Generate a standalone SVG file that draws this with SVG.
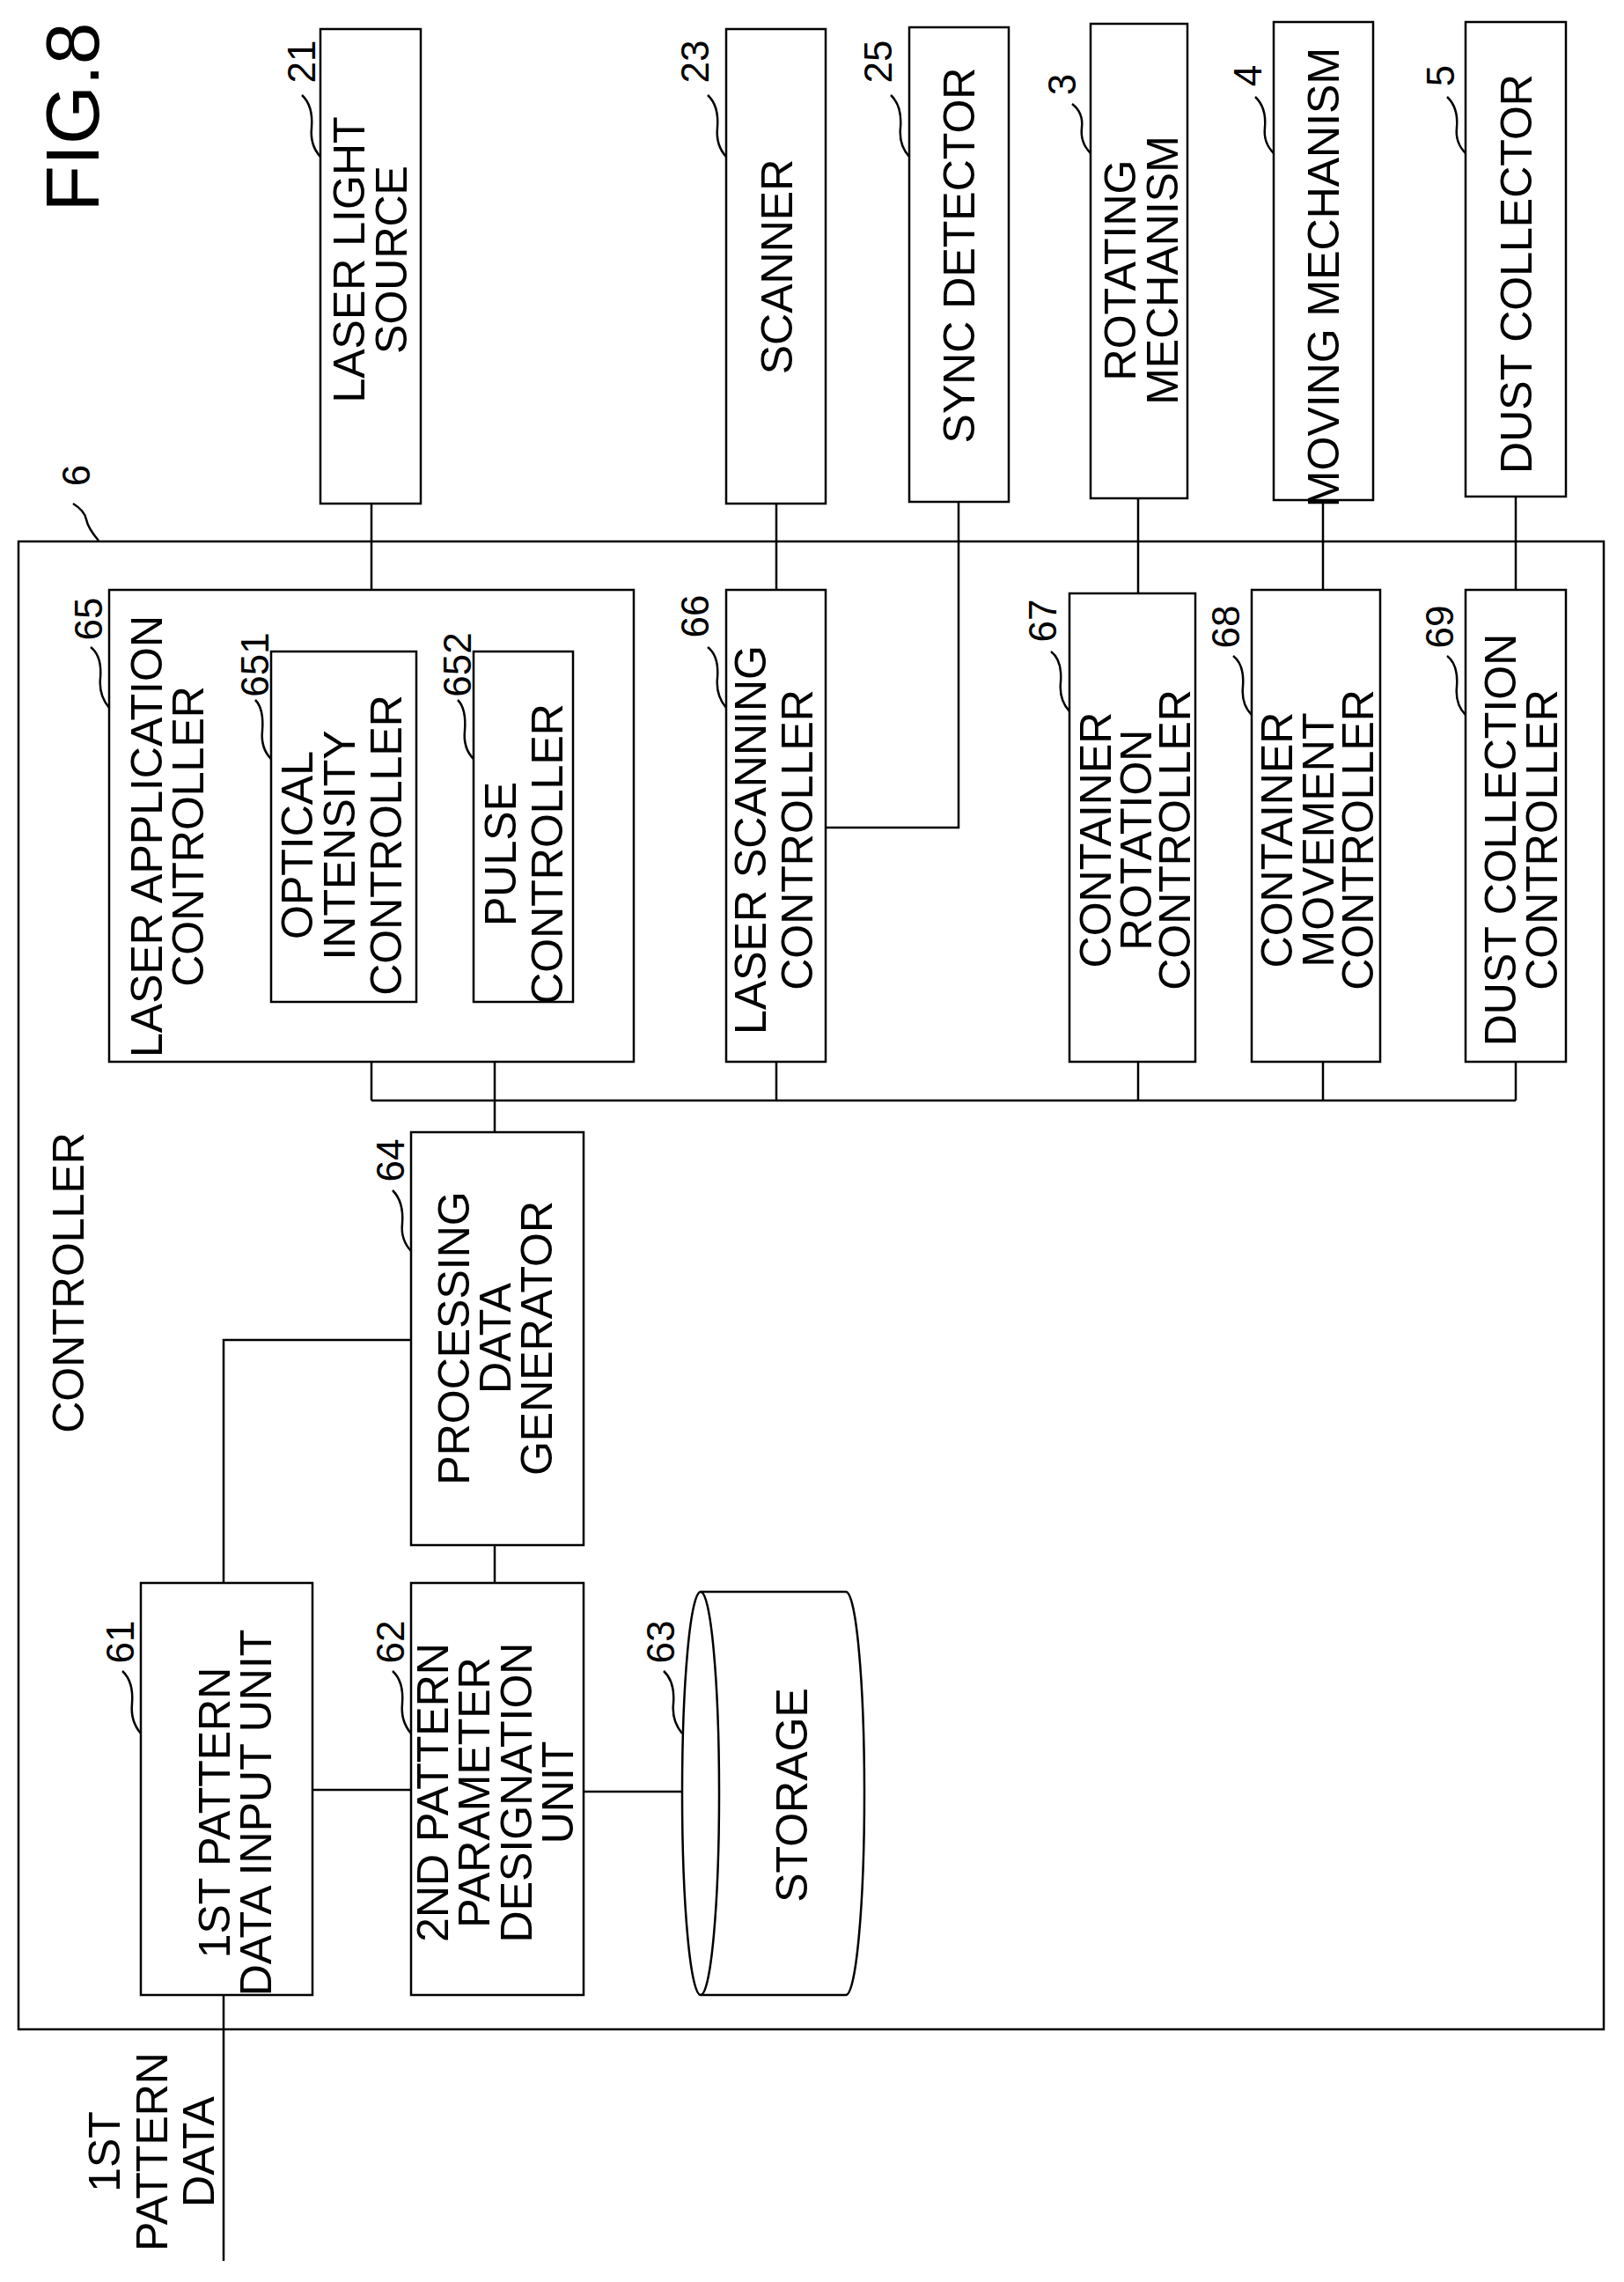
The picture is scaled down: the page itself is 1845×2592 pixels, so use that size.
<svg xmlns="http://www.w3.org/2000/svg" width="1845" height="2592" viewBox="0 0 1845 2592">
<style>
rect,path,ellipse{fill:none;stroke:#000;stroke-width:2.5}
line,polyline{fill:none;stroke:#000;stroke-width:2.5}
text{font-family:"Liberation Sans",Arial,sans-serif;font-size:50px;fill:#000;text-anchor:middle}
.n{font-size:44px}
</style>
<rect width="1845" height="2592" style="fill:#fff;stroke:none"/>
<text x="0" y="0" style="font-size:86px" transform="translate(112,133) rotate(-90)">FIG.8</text>
<g id="controller"><rect x="21" y="615" width="1801" height="1690"/>
<text transform="translate(95,1457) rotate(-90)">CONTROLLER</text>
<path d="M112,614 Q100,600 98,590 Q96,580 83,572"/><text class="n" transform="translate(102,540) rotate(-90)">6</text></g>
<g id="n21"><rect x="364" y="33" width="114" height="539"/>
<text transform="translate(414,295) rotate(-90)">LASER LIGHT</text><text transform="translate(462,295) rotate(-90)">SOURCE</text>
<path d="M364,178 Q352,165 354,145 Q356,120 343,108"/><text class="n" transform="translate(358,70) rotate(-90)">21</text></g>
<g id="n23"><rect x="825" y="33" width="113" height="539"/>
<text transform="translate(900,303) rotate(-90)">SCANNER</text>
<path d="M825,178 Q813,165 815,145 Q817,120 804,108"/><text class="n" transform="translate(805,70) rotate(-90)">23</text></g>
<g id="n25"><rect x="1033" y="31" width="113" height="539"/>
<text transform="translate(1107,290) rotate(-90)">SYNC DETECTOR</text>
<path d="M1033,178 Q1021,165 1023,145 Q1025,120 1012,108"/><text class="n" transform="translate(1013,70) rotate(-90)">25</text></g>
<g id="n3"><rect x="1239" y="27" width="110" height="539"/>
<text transform="translate(1290,307) rotate(-90)">ROTATING</text><text transform="translate(1338,307) rotate(-90)">MECHANISM</text>
<path d="M1239,174 Q1227,162 1229,145 Q1231,128 1218,118"/><text class="n" transform="translate(1222,96) rotate(-90)">3</text></g>
<g id="n4"><rect x="1447" y="25" width="113" height="543"/>
<text transform="translate(1521,315) rotate(-90)">MOVING MECHANISM</text>
<path d="M1447,174 Q1435,162 1437,145 Q1439,122 1426,110"/><text class="n" transform="translate(1433,86) rotate(-90)">4</text></g>
<g id="n5"><rect x="1665" y="25" width="114" height="539"/>
<text transform="translate(1740,311) rotate(-90)">DUST COLLECTOR</text>
<path d="M1665,174 Q1653,162 1655,145 Q1657,122 1644,110"/><text class="n" transform="translate(1652,86) rotate(-90)">5</text></g>
<g id="n65"><rect x="124" y="670" width="596" height="536"/>
<text transform="translate(184,950) rotate(-90)">LASER APPLICATION</text><text transform="translate(231,950) rotate(-90)">CONTROLLER</text>
<path d="M124,804 Q112,790 114,770 Q116,745 103,735"/><text class="n" transform="translate(116,703) rotate(-90)">65</text></g>
<g id="n651"><rect x="308" y="740" width="165" height="398"/>
<text transform="translate(355,960) rotate(-90)">OPTICAL</text><text transform="translate(403,960) rotate(-90)">INTENSITY</text><text transform="translate(456,960) rotate(-90)">CONTROLLER</text>
<path d="M308,862 Q296,850 298,830 Q300,805 290,795"/><text class="n" transform="translate(305,755) rotate(-90)">651</text></g>
<g id="n652"><rect x="538" y="740" width="113" height="398"/>
<text transform="translate(586,970) rotate(-90)">PULSE</text><text transform="translate(639,970) rotate(-90)">CONTROLLER</text>
<path d="M538,862 Q526,850 528,830 Q530,805 520,795"/><text class="n" transform="translate(535,755) rotate(-90)">652</text></g>
<g id="n66"><rect x="825" y="670" width="113" height="536"/>
<text transform="translate(870,954) rotate(-90)">LASER SCANNING</text><text transform="translate(923,954) rotate(-90)">CONTROLLER</text>
<path d="M825,804 Q813,790 815,770 Q817,745 804,735"/><text class="n" transform="translate(805,700) rotate(-90)">66</text></g>
<g id="n67"><rect x="1215" y="674" width="143" height="532"/>
<text transform="translate(1262,954) rotate(-90)">CONTAINER</text><text transform="translate(1308,954) rotate(-90)">ROTATION</text><text transform="translate(1352,954) rotate(-90)">CONTROLLER</text>
<path d="M1215,808 Q1203,795 1205,775 Q1207,750 1194,740"/><text class="n" transform="translate(1200,705) rotate(-90)">67</text></g>
<g id="n68"><rect x="1422" y="670" width="146" height="536"/>
<text transform="translate(1468,954) rotate(-90)">CONTAINER</text><text transform="translate(1515,954) rotate(-90)">MOVEMENT</text><text transform="translate(1560,954) rotate(-90)">CONTROLLER</text>
<path d="M1422,812 Q1410,800 1412,780 Q1414,755 1401,745"/><text class="n" transform="translate(1408,712) rotate(-90)">68</text></g>
<g id="n69"><rect x="1665" y="670" width="114" height="536"/>
<text transform="translate(1722,954) rotate(-90)">DUST COLLECTION</text><text transform="translate(1769,954) rotate(-90)">CONTROLLER</text>
<path d="M1665,812 Q1653,800 1655,780 Q1657,755 1644,745"/><text class="n" transform="translate(1651,712) rotate(-90)">69</text></g>
<g id="n64"><rect x="467" y="1286" width="196" height="469"/>
<text transform="translate(533,1520) rotate(-90)">PROCESSING</text><text transform="translate(580,1520) rotate(-90)">DATA</text><text transform="translate(627,1520) rotate(-90)">GENERATOR</text>
<path d="M467,1421 Q455,1408 457,1390 Q459,1365 446,1352"/><text class="n" transform="translate(459,1318) rotate(-90)">64</text></g>
<g id="n61"><rect x="160" y="1798" width="195" height="468"/>
<text transform="translate(261,2059) rotate(-90)">1ST PATTERN</text><text transform="translate(308,2059) rotate(-90)">DATA INPUT UNIT</text>
<path d="M160,1969 Q148,1955 150,1935 Q152,1910 139,1898"/><text class="n" transform="translate(152,1865) rotate(-90)">61</text></g>
<g id="n62"><rect x="467" y="1798" width="196" height="468"/>
<text transform="translate(509,2036) rotate(-90)">2ND PATTERN</text><text transform="translate(556,2036) rotate(-90)">PARAMETER</text><text transform="translate(604,2036) rotate(-90)">DESIGNATION</text><text transform="translate(651,2036) rotate(-90)">UNIT</text>
<path d="M467,1969 Q455,1955 457,1935 Q459,1910 446,1898"/><text class="n" transform="translate(459,1865) rotate(-90)">62</text></g>
<g id="n63"><ellipse cx="796" cy="2037" rx="21" ry="229"/>
<path d="M796,1808 L961,1808 A21,229 0 0 1 961,2266 L796,2266"/>
<text transform="translate(917,2039) rotate(-90)">STORAGE</text>
<path d="M775,1969 Q763,1955 765,1935 Q767,1910 754,1898"/><text class="n" transform="translate(766,1865) rotate(-90)">63</text></g>
<g id="input-label"><text transform="translate(136,2444) rotate(-90)">1ST</text><text transform="translate(190,2444) rotate(-90)">PATTERN</text><text transform="translate(243,2444) rotate(-90)">DATA</text></g>
<g id="connectors">
<line x1="422" y1="572" x2="422" y2="670"/>
<line x1="882" y1="572" x2="882" y2="670"/>
<polyline points="1089,570 1089,940 938,940"/>
<line x1="1293" y1="566" x2="1293" y2="674"/>
<line x1="1503" y1="568" x2="1503" y2="670"/>
<line x1="1722" y1="564" x2="1722" y2="670"/>
<line x1="422" y1="1250" x2="1722" y2="1250"/>
<line x1="422" y1="1206" x2="422" y2="1250"/>
<line x1="562" y1="1206" x2="562" y2="1286"/>
<line x1="882" y1="1206" x2="882" y2="1250"/>
<line x1="1293" y1="1206" x2="1293" y2="1250"/>
<line x1="1503" y1="1206" x2="1503" y2="1250"/>
<line x1="1722" y1="1206" x2="1722" y2="1250"/>
<line x1="562" y1="1755" x2="562" y2="1798"/>
<polyline points="254,1798 254,1522 467,1522"/>
<line x1="355" y1="2033" x2="467" y2="2033"/>
<line x1="663" y1="2035" x2="775" y2="2035"/>
<line x1="254" y1="2266" x2="254" y2="2568"/>
</g>
</svg>
